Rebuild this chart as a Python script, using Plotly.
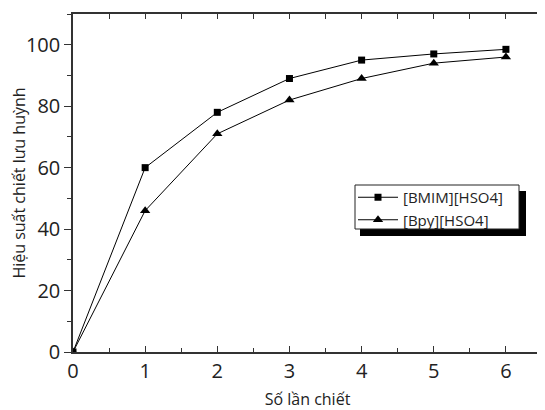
import plotly.graph_objects as go

x_vals = [0, 1, 2, 3, 4, 5, 6]
bmim = [0, 60, 78, 89, 95, 97, 98.5]
bpy = [0, 46, 71, 82, 89, 94, 96]
names = ["[BMIM][HSO4]", "[Bpy][HSO4]"]
x_title = "Số lần chiết"
y_title = "Hiệu suất chiết lưu huỳnh"

FONT = "Open Sans"
fig = go.Figure()
fig.add_trace(go.Scatter(x=x_vals, y=bmim, name=names[0], mode="lines+markers",
                         line=dict(color="black", width=1),
                         marker=dict(symbol="square", size=7, color="black")))
fig.add_trace(go.Scatter(x=x_vals, y=bpy, name=names[1], mode="lines+markers",
                         line=dict(color="black", width=1),
                         marker=dict(symbol="triangle-up", size=9, color="black")))
fig.add_trace(go.Scatter(x=[0], y=[0], xaxis="x2", yaxis="y2", mode="markers",
                         marker=dict(opacity=0), showlegend=False, hoverinfo="skip"))

# page body has an 8px margin; figure sized to fit the 545x410 window
W, H = 537, 402
L, R, T, B = 65, 3, 6, 58
pw, ph = W - L - R, H - T - B

def px(x):
    return (x - L) / pw

def py(y):
    return (H - B - y) / ph

fig.update_layout(
    width=W, height=H,
    margin=dict(l=L, r=R, t=T, b=B, autoexpand=False),
    paper_bgcolor="white", plot_bgcolor="white",
    font=dict(family=FONT, color="#222"),
    xaxis=dict(range=[0, 6.5], dtick=1, tick0=0, ticks="inside", ticklen=6, tickwidth=1,
               tickcolor="#333", showline=True, linecolor="#333", linewidth=1.5,
               showgrid=False, zeroline=False, automargin=False,
               minor=dict(dtick=0.5, ticks="inside", ticklen=4, tickcolor="#333"),
               tickfont=dict(size=20, family=FONT),
               title=dict(text=x_title, font=dict(size=16, family=FONT), standoff=12)),
    xaxis2=dict(range=[0, 6.5], overlaying="x", side="top", anchor="y", dtick=0.5, tick0=0,
                ticks="inside", ticklen=5, tickcolor="#333", showticklabels=False,
                showline=True, linecolor="#333", linewidth=1.5, showgrid=False,
                zeroline=False, automargin=False),
    yaxis=dict(range=[0, 110], dtick=20, tick0=0, ticks="outside", ticklen=7, tickwidth=1,
               tickcolor="#333", showline=True, linecolor="#333", linewidth=1.5,
               showgrid=False, zeroline=False, automargin=False,
               minor=dict(dtick=10, ticks="outside", ticklen=4, tickcolor="#333"),
               tickfont=dict(size=20, family=FONT),
               title=dict(text=y_title, font=dict(size=16, family=FONT), standoff=1)),
    yaxis2=dict(range=[0, 110], overlaying="y", side="right", anchor="x", dtick=10, tick0=0,
                ticks="outside", ticklen=4, tickcolor="#4a66c8", showticklabels=False,
                showline=True, linecolor="#4a66c8", linewidth=1.5, showgrid=False,
                zeroline=False, automargin=False),
    showlegend=True,
    legend=dict(x=px(345), y=py(173), xanchor="left", yanchor="top",
                bgcolor="rgba(0,0,0,0)", borderwidth=0,
                font=dict(size=15, family=FONT, color="#222"),
                tracegroupgap=0, itemwidth=40),
    shapes=[
        dict(type="rect", xref="paper", yref="paper",
             x0=px(352), x1=px(518), y0=py(228), y1=py(183),
             fillcolor="black", line=dict(width=0), layer="above"),
        dict(type="rect", xref="paper", yref="paper",
             x0=px(347), x1=px(511), y0=py(221), y1=py(177),
             fillcolor="white", line=dict(width=1, color="#222"), layer="above"),
    ],
)

fig.write_html("out.html")
